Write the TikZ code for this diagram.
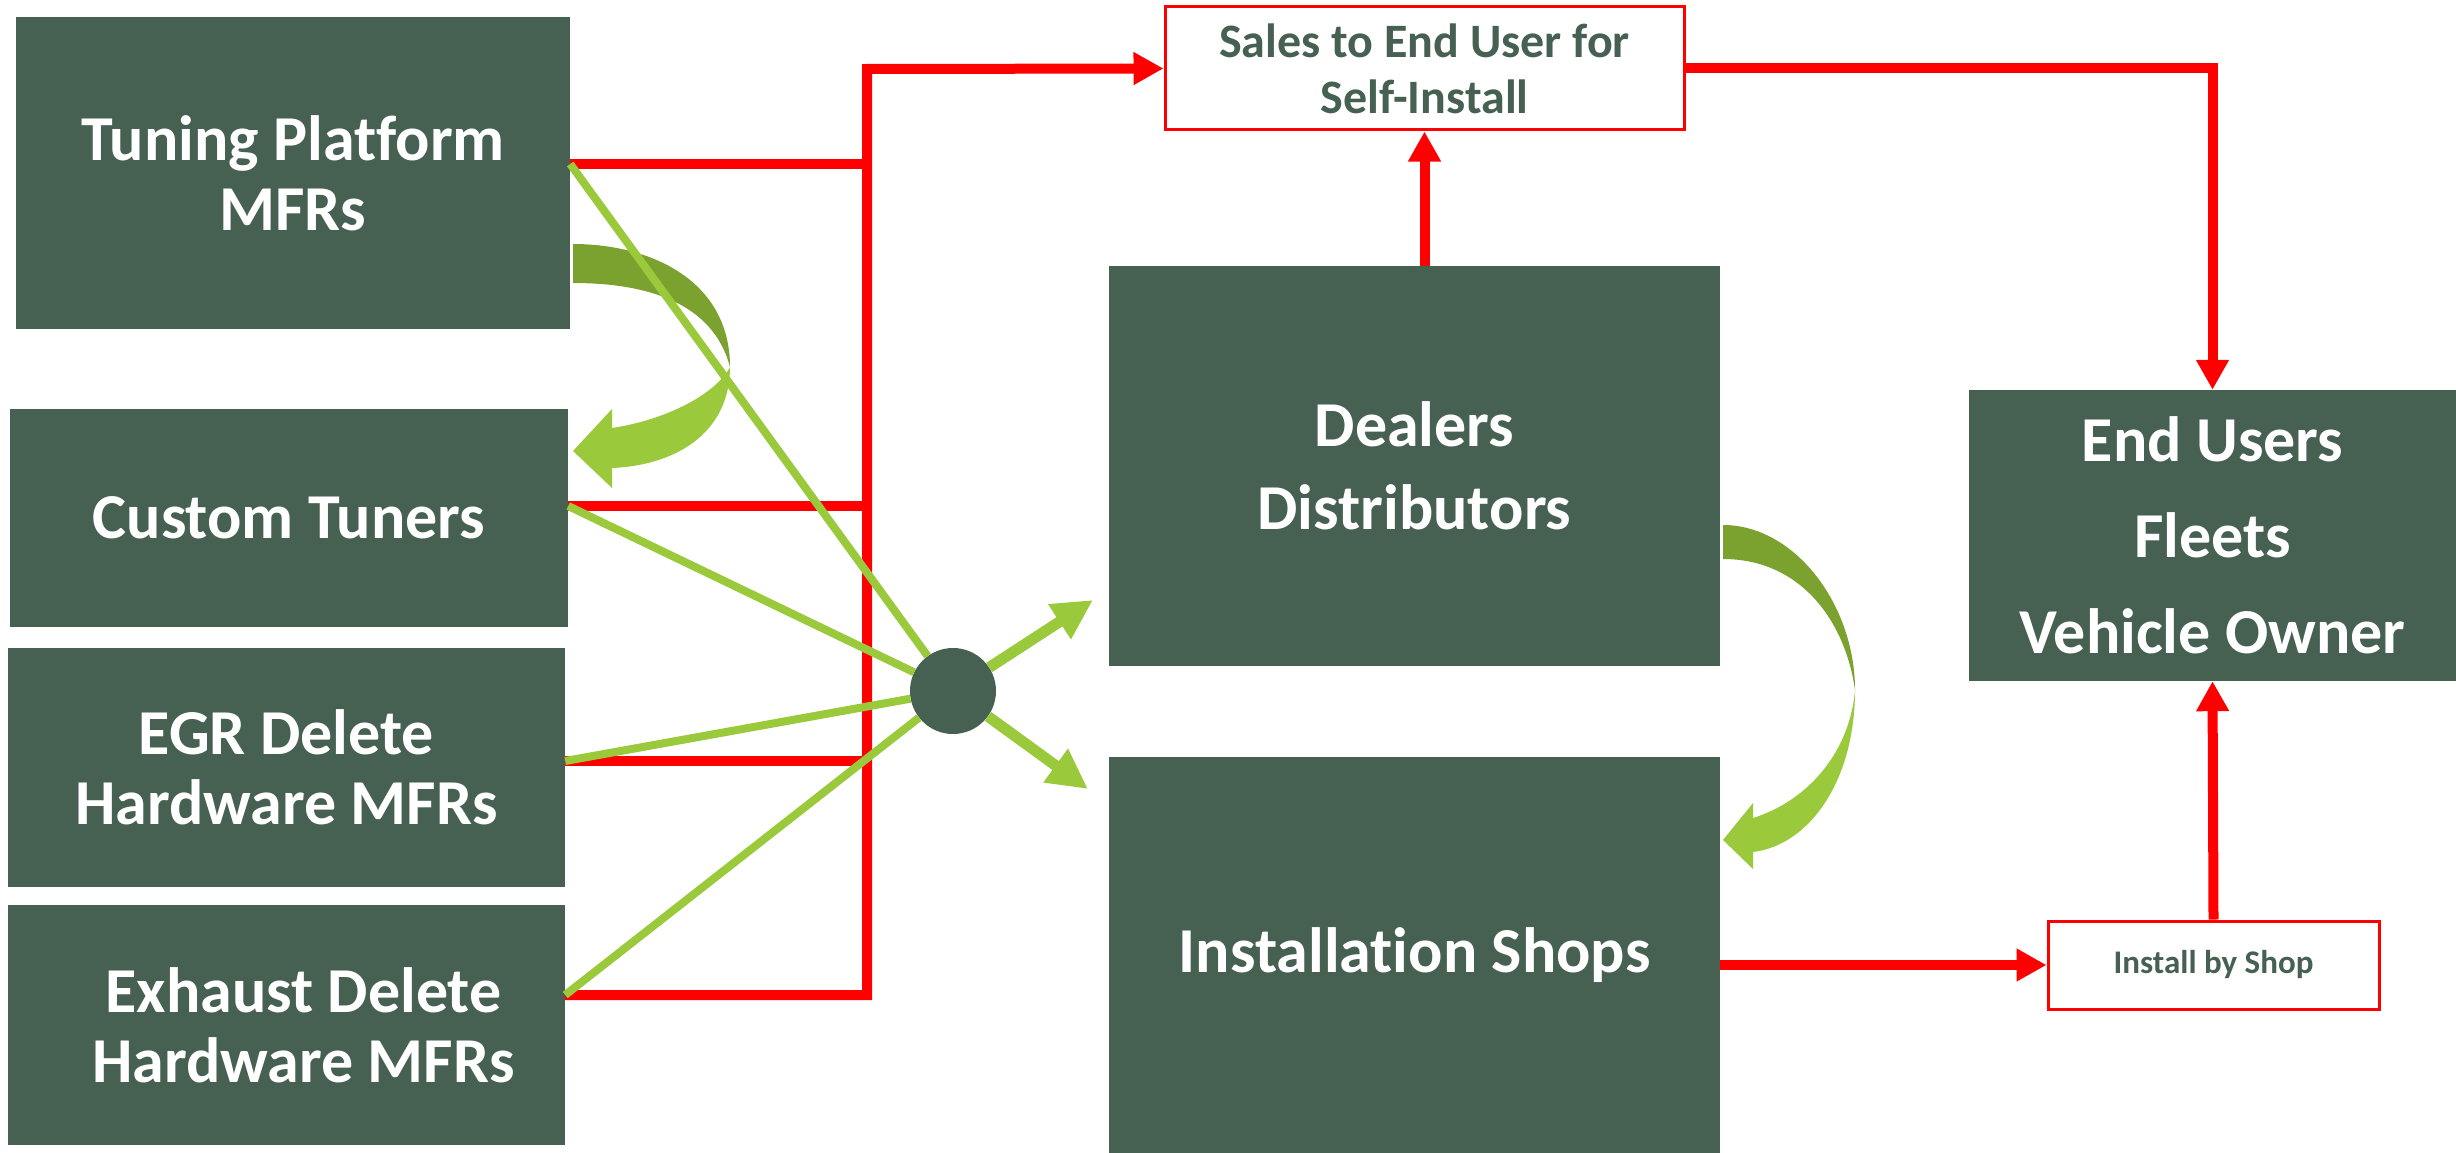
\documentclass[tikz,border=0pt]{standalone}
\usepackage{fontspec}
\setmainfont{Carlito}[Ligatures=NoCommon]
\usetikzlibrary{arrows.meta}
\definecolor{boxgreen}{HTML}{466052}
\definecolor{leafgreen}{HTML}{9ACA3C}
\definecolor{olivegreen}{HTML}{7BA22F}
\definecolor{linered}{HTML}{FF0000}
\tikzset{
  darkbox/.style={fill=boxgreen, text=white, align=center, inner sep=0pt,
    font=\bfseries\fontsize{64}{70}\selectfont},
  labelbox/.style={draw=linered, line width=3pt, fill=white, text=boxgreen,
    align=center, inner sep=0pt},
  redline/.style={draw=linered, line width=10pt, line join=miter},
  redarrow/.style={redline, -{Triangle[width=31pt,length=30pt]}},
  greenline/.style={draw=leafgreen, line width=8pt},
  greenarrow/.style={draw=leafgreen, line width=11pt, -{Triangle[width=39pt,length=40pt]}},
}
\begin{document}
\begin{tikzpicture}[x=1pt,y=-1pt]
\useasboundingbox (0,0) rectangle (2456,1153);
% suppliers
\node[darkbox, minimum width=554pt, minimum height=312pt] (tuning) at (293,173) {Tuning Platform\\MFRs};
\node[darkbox, minimum width=558pt, minimum height=218pt] (custom) at (289,518) {Custom Tuners};
\node[darkbox, minimum width=557pt, minimum height=239pt] (egr) at (286.5,767.5) {EGR Delete\\Hardware MFRs};
\node[darkbox, minimum width=557pt, minimum height=240pt] (exhaust) at (286.5,1025) {\hspace*{34pt}Exhaust Delete\\\hspace*{34pt}Hardware MFRs};
% channels
\node[darkbox, minimum width=611pt, minimum height=400pt, font=\bfseries\fontsize{64}{83}\selectfont] (dealers) at (1414.5,466) {Dealers\\Distributors};
\node[darkbox, minimum width=611pt, minimum height=396pt] (shops) at (1414.5,955) {Installation Shops};
\node[darkbox, minimum width=487pt, minimum height=291pt, font=\bfseries\fontsize{64}{96}\selectfont] (endusers) at (2212.5,535.5) {End Users\\Fleets\\Vehicle Owner};
\node[labelbox, minimum width=519pt, minimum height=123pt, font=\bfseries\fontsize{48}{56}\selectfont] (sales) at (1424.5,68.5) {Sales to End User for\\Self-Install};
\node[labelbox, minimum width=331pt, minimum height=88pt, font=\bfseries\fontsize{33}{36}\selectfont] (byshop) at (2213.5,965) {Install by Shop};
\node[circle, fill=boxgreen, minimum size=86pt, inner sep=0pt] (hub) at (953,691) {};
% curved arrows
\fill[olivegreen] (573,244) .. controls (650,244) and (730,280) .. (730,367)
  .. controls (715,310) and (660,283) .. (573,283) -- cycle;
\fill[leafgreen] (730,367) .. controls (730,430) and (680,465) .. (612,468)
  -- (612,488) -- (573,451) -- (612,409) -- (612,428)
  .. controls (665,420) and (715,395) .. (730,367) -- cycle;
\fill[olivegreen] (1723,525) .. controls (1795,525) and (1855,605) .. (1855,690)
  .. controls (1845,620) and (1800,559) .. (1723,559) -- cycle;
\fill[leafgreen] (1855,690) .. controls (1855,780) and (1810,845) .. (1753,852)
  -- (1753,869) -- (1723,840) -- (1753,803) -- (1753,818)
  .. controls (1810,800) and (1850,750) .. (1855,690) -- cycle;
% red flow
\coordinate (bus) at (867,69);
\coordinate (tp) at ([yshift=9pt]tuning.east);
\coordinate (cp) at ([yshift=12pt]custom.east);
\coordinate (ep) at ([yshift=6.5pt]egr.east);
\coordinate (xp) at ([yshift=30pt]exhaust.east);
\draw[redarrow] (xp) -| (bus) -- (sales.west);
\draw[redline] (tp) -- (tp -| bus);
\draw[redline] (cp) -- (cp -| bus);
\draw[redline] (ep) -- (ep -| bus);
\draw[redarrow] (sales.east) -| (endusers.north);
\draw[redarrow] (sales.south |- dealers.north) -- (sales.south);
\draw[redarrow] (shops.east |- byshop.west) -- (byshop.west);
\draw[redarrow] (byshop.north) -- (endusers.south);
% green flow
\coordinate (dtip) at (1093,600);
\coordinate (stip) at (1088,789);
\draw[greenline] (tp) -- (hub);
\draw[greenline] (cp) -- (hub);
\draw[greenline] (ep) -- (hub);
\draw[greenline] (xp) -- (hub);
\draw[greenarrow] (hub) -- (dtip);
\draw[greenarrow] (hub) -- (stip);
\end{tikzpicture}
\end{document}
